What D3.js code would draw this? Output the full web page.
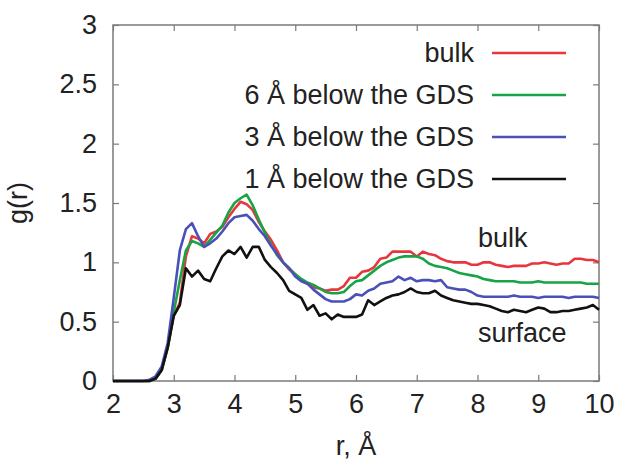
<!DOCTYPE html>
<html>
<head>
<meta charset="utf-8">
<script src="https://cdn.jsdelivr.net/npm/d3@7"></script>
<style>
  body { margin: 0; background: #fff; }
  text { font-family: "Liberation Sans", Arial, sans-serif; fill: #222; }
</style>
</head>
<body>
<div class="chart"></div>
<script>
// r grid, 2.0 .. 10.0 step 0.1
var rValues = [2.0,2.1,2.2,2.3,2.4,2.5,2.6,2.7,2.8,2.9,
               3.0,3.1,3.2,3.3,3.4,3.5,3.6,3.7,3.8,3.9,
               4.0,4.1,4.2,4.3,4.4,4.5,4.6,4.7,4.8,4.9,
               5.0,5.1,5.2,5.3,5.4,5.5,5.6,5.7,5.8,5.9,
               6.0,6.1,6.2,6.3,6.4,6.5,6.6,6.7,6.8,6.9,
               7.0,7.1,7.2,7.3,7.4,7.5,7.6,7.7,7.8,7.9,
               8.0,8.1,8.2,8.3,8.4,8.5,8.6,8.7,8.8,8.9,
               9.0,9.1,9.2,9.3,9.4,9.5,9.6,9.7,9.8,9.9,10.0];

var bulk = [0,0,0,0,0,0,0,0.02,0.09,0.28,
            0.55,0.66,1.05,1.22,1.20,1.16,1.24,1.26,1.30,1.38,
            1.45,1.51,1.49,1.44,1.34,1.26,1.19,1.10,1.00,0.94,
            0.90,0.85,0.82,0.79,0.78,0.76,0.77,0.77,0.80,0.87,
            0.87,0.92,0.93,0.96,1.03,1.04,1.09,1.09,1.09,1.09,
            1.05,1.09,1.07,1.06,1.03,1.01,1.00,1.00,1.00,0.98,
            0.98,1.00,1.00,0.98,0.97,0.96,0.97,0.97,0.97,0.99,
            0.99,1.00,0.99,0.98,0.99,0.99,1.03,1.03,1.02,1.02,1.00];

var below6 = [0,0,0,0,0,0,0,0.02,0.09,0.28,
              0.58,0.85,1.10,1.18,1.16,1.13,1.19,1.25,1.31,1.42,
              1.50,1.54,1.57,1.48,1.36,1.25,1.15,1.06,1.00,0.95,
              0.90,0.86,0.83,0.81,0.78,0.75,0.74,0.74,0.75,0.80,
              0.84,0.85,0.89,0.93,0.97,1.00,1.02,1.04,1.05,1.05,
              1.05,1.03,0.99,0.97,0.96,0.95,0.93,0.91,0.90,0.89,
              0.88,0.86,0.85,0.84,0.84,0.84,0.84,0.83,0.83,0.83,
              0.84,0.83,0.83,0.83,0.83,0.83,0.83,0.83,0.82,0.82,0.82];

var below3 = [0,0,0,0,0,0,0.01,0.04,0.12,0.32,
              0.70,1.10,1.28,1.33,1.22,1.13,1.16,1.20,1.26,1.33,
              1.38,1.39,1.40,1.35,1.28,1.22,1.14,1.07,1.00,0.95,
              0.88,0.84,0.82,0.77,0.73,0.69,0.67,0.67,0.67,0.69,
              0.73,0.72,0.76,0.78,0.82,0.83,0.84,0.88,0.85,0.87,
              0.84,0.85,0.85,0.84,0.85,0.79,0.78,0.77,0.77,0.75,
              0.72,0.71,0.71,0.71,0.71,0.71,0.72,0.71,0.71,0.71,
              0.70,0.71,0.71,0.71,0.71,0.70,0.71,0.71,0.71,0.71,0.70];

var below1 = [0,0,0,0,0,0,0,0.02,0.09,0.28,
              0.55,0.64,0.95,0.88,0.93,0.86,0.84,0.95,1.05,1.10,
              1.07,1.13,1.04,1.13,1.13,1.02,0.96,0.91,0.85,0.76,
              0.73,0.70,0.60,0.64,0.55,0.57,0.52,0.56,0.54,0.54,
              0.54,0.56,0.68,0.64,0.67,0.70,0.72,0.73,0.75,0.78,
              0.75,0.74,0.74,0.76,0.72,0.70,0.68,0.67,0.66,0.65,
              0.65,0.64,0.63,0.61,0.59,0.58,0.60,0.59,0.58,0.60,
              0.62,0.61,0.58,0.58,0.59,0.59,0.60,0.61,0.62,0.64,0.60];

var seriesNames = ["bulk", "6 \u00c5 below the GDS", "3 \u00c5 below the GDS", "1 \u00c5 below the GDS"];
var seriesData = [bulk, below6, below3, below1];
var seriesColors = ["#e8363f", "#18a345", "#4a50b8", "#111111"];

var xTicks = [2,3,4,5,6,7,8,9,10];
var yTicks = [0,0.5,1,1.5,2,2.5,3];

var width = 621, height = 461;
var margin = {top: 25, right: 22, bottom: 80, left: 113};
var fontSize = "27px";

var svg = d3.select(".chart")
            .append("svg")
              .attr("width", width)
              .attr("height", height);

var x = d3.scaleLinear().domain([2, 10]).range([margin.left, width - margin.right]);
var y = d3.scaleLinear().domain([0, 3]).range([height - margin.bottom, margin.top]);

// frame
svg.append("rect")
   .attr("x", x(2)).attr("y", y(3))
   .attr("width", x(10) - x(2)).attr("height", y(0) - y(3))
   .attr("fill", "none").attr("stroke", "#7a7a7a").attr("stroke-width", 1.5);

// axes, ticks pointing inward, mirrored on top/right
var fmt = function(d) { return d; };
svg.append("g").attr("transform", "translate(0," + y(0) + ")")
   .call(d3.axisBottom(x).tickValues(xTicks).tickSize(-6).tickPadding(13).tickFormat(fmt));
svg.append("g").attr("transform", "translate(0," + y(3) + ")")
   .call(d3.axisTop(x).tickValues(xTicks).tickSize(-6).tickFormat(""));
svg.append("g").attr("transform", "translate(" + x(2) + ",0)")
   .call(d3.axisLeft(y).tickValues(yTicks).tickSize(-6).tickPadding(16).tickFormat(fmt));
svg.append("g").attr("transform", "translate(" + x(10) + ",0)")
   .call(d3.axisRight(y).tickValues(yTicks).tickSize(-6).tickFormat(""));

svg.selectAll(".domain").remove();
svg.selectAll(".tick line").attr("stroke", "#7a7a7a").attr("stroke-width", 1.2);
svg.selectAll(".tick text")
   .attr("font-size", fontSize)
   .attr("fill", "#222");

// lines
var line = d3.line()
  .x(function(d, i) { return x(rValues[i]); })
  .y(function(d) { return y(d); });

svg.selectAll("path.series")
   .data(seriesData)
   .enter()
   .append("path")
    .attr("class", "series")
    .attr("d", line)
    .attr("fill", "none")
    .attr("stroke", function(d, i) { return seriesColors[i]; })
    .attr("stroke-width", 2.6)
    .attr("stroke-linejoin", "round");

// legend
var legend = svg.selectAll("g.legend")
   .data(seriesNames)
   .enter()
   .append("g")
    .attr("class", "legend")
    .attr("transform", function(d, i) { return "translate(0," + (53 + i * 42) + ")"; });

legend.append("text")
   .attr("x", 474)
   .attr("dy", "0.35em")
   .attr("text-anchor", "end")
   .attr("font-size", fontSize)
   .text(function(d) { return d; });

legend.append("line")
   .attr("x1", 492).attr("x2", 566)
   .attr("stroke", function(d, i) { return seriesColors[i]; })
   .attr("stroke-width", 2.6);

// annotations
svg.append("text").attr("x", 478).attr("y", 247).attr("font-size", fontSize).text("bulk");
svg.append("text").attr("x", 478).attr("y", 342).attr("font-size", fontSize).text("surface");

// axis titles
svg.append("text")
   .attr("x", (x(2) + x(10)) / 2).attr("y", 455)
   .attr("text-anchor", "middle").attr("font-size", fontSize)
   .text("r, \u00c5");

svg.append("text")
   .attr("transform", "translate(27," + y(1.5) + ") rotate(-90)")
   .attr("text-anchor", "middle").attr("font-size", fontSize)
   .text("g(r)");
</script>
</body>
</html>
